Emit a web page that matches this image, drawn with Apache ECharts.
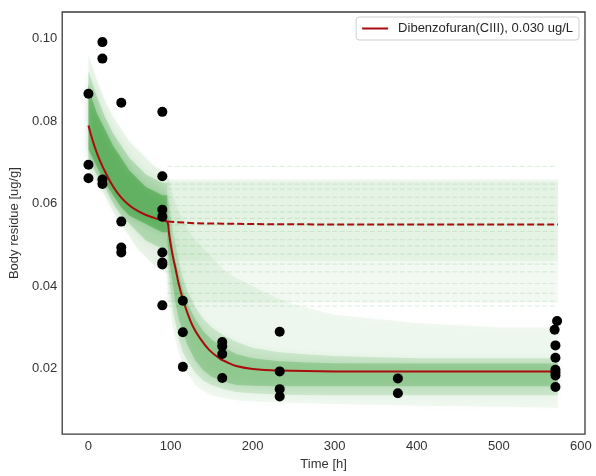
<!DOCTYPE html>
<html><head><meta charset="utf-8">
<script src="https://cdn.jsdelivr.net/npm/echarts@6/dist/echarts.min.js"></script>
<style>html,body{margin:0;padding:0;background:#fff}#c{width:596px;height:476px}</style>
</head><body><div id="c"></div><script>
// ---- observations ----
const obsT = [0,0,0, 17,17,17,17, 40,40,40,40, 90,90,90,90,90,90,90,90, 115,115,115, 163,163,163,163, 233,233,233,233, 377,377, 571,568,569,569,569,569,569,569];
const obsV = [0.0866,0.0694,0.0661, 0.0991,0.0951,0.0658,0.0647, 0.0844,0.0556,0.0493,0.0481, 0.0822,0.0666,0.0585,0.0568,0.0481,0.0457,0.0452,0.0353, 0.0364,0.0288,0.0204, 0.0264,0.0254,0.0235,0.0177, 0.0289,0.0193,0.0150,0.0132, 0.0176,0.0140, 0.0315,0.0294,0.0256,0.0226,0.0197,0.0190,0.0183,0.0155];

// ---- model (red) ----
const modelT = [0,5,10,15,20,30,40,50,60,70,80,90,96,98,100,103,106,110,115,120,127,135,147,160,167,180,200,230,300,400,572];
const modelV = [0.0789,0.0753,0.0724,0.0699,0.0678,0.0641,0.0614,0.0595,0.0582,0.0572,0.0565,0.0559,0.0556,0.0530,0.0503,0.0470,0.0443,0.0405,0.0368,0.0338,0.0303,0.0276,0.0245,0.0224,0.0217,0.0206,0.0199,0.0195,0.0193,0.0193,0.0193];
const contT = [96,130,200,300,572];
const contV = [0.0556,0.0552,0.0550,0.0549,0.0549];

// ---- posterior sample envelopes (green) ----
const p1T = [0,5,10,20,30,40,50,60,70,80,90,96];
const p1OuterHi = [0.096,0.093,0.090,0.085,0.081,0.078,0.075,0.073,0.071,0.069,0.068,0.067];
const p1OuterLo = [0.068,0.067,0.065,0.062,0.058,0.055,0.052,0.049,0.047,0.045,0.044,0.043];
const p1MidHi   = [0.092,0.089,0.086,0.081,0.077,0.074,0.071,0.069,0.067,0.066,0.065,0.065];
const p1MidLo   = [0.071,0.069,0.067,0.064,0.060,0.057,0.055,0.053,0.051,0.050,0.049,0.049];
const p1CoreHi  = [0.089,0.085,0.082,0.078,0.074,0.071,0.068,0.066,0.064,0.063,0.062,0.062];
const p1CoreLo  = [0.073,0.071,0.069,0.065,0.062,0.059,0.057,0.056,0.055,0.054,0.053,0.053];

const p2T = [96,98,100,103,106,110,115,120,130,140,150,165,180,200,230,260,300,400,500,572];
const p2OuterHi = [0.067,0.066,0.064,0.062,0.060,0.058,0.056,0.054,0.051,0.049,0.047,0.044,0.042,0.040,0.037,0.035,0.033,0.031,0.030,0.030];
const p2OuterLo = [0.043,0.038,0.034,0.030,0.027,0.024,0.021,0.019,0.016,0.0145,0.0135,0.0128,0.0123,0.0120,0.0118,0.0116,0.0114,0.0110,0.0107,0.0105];
const p2MidHi   = [0.062,0.060,0.057,0.053,0.050,0.046,0.042,0.039,0.035,0.032,0.030,0.028,0.0265,0.025,0.024,0.0235,0.023,0.0225,0.0225,0.0225];
const p2MidLo   = [0.047,0.043,0.039,0.034,0.031,0.027,0.024,0.022,0.019,0.017,0.016,0.015,0.0143,0.0140,0.0137,0.0136,0.0135,0.0135,0.0135,0.0135];
const p2CoreHi  = [0.058,0.056,0.053,0.049,0.046,0.043,0.039,0.036,0.032,0.029,0.027,0.025,0.0235,0.0225,0.0218,0.0215,0.0213,0.0212,0.0212,0.0212];
const p2CoreLo  = [0.051,0.047,0.044,0.040,0.036,0.032,0.029,0.026,0.022,0.0195,0.018,0.0168,0.0160,0.0158,0.0157,0.0157,0.0157,0.0157,0.0157,0.0157];

const flatT = [96,572];
const flatOuterHi = [0.066,0.066];
const flatOuterLo = [0.036,0.036];
const flatInnerHi = [0.0655,0.0655];
const flatInnerLo = [0.046,0.046];
const flatLevels = [0.069,0.0647,0.0635,0.0615,0.0595,0.0579,0.0564,0.0548,0.0532,0.0512,0.0497,0.0477,0.0453,0.0434,0.0406,0.0382,0.0363,0.0351];

// ---- ticks ----
const xTicks = [0,100,200,300,400,500,600];
const yTicks = [0.02,0.04,0.06,0.08,0.10];

const bands = [
  {t:flatT, hi:flatOuterHi, lo:flatOuterLo, op:0.04, blur:3, sh:0.3},
  {t:flatT, hi:flatInnerHi, lo:flatInnerLo, op:0.045, blur:3, sh:0.3},
  {t:p1T, hi:p1OuterHi, lo:p1OuterLo, op:0.07, blur:7, sh:0.5},
  {t:p1T, hi:p1MidHi, lo:p1MidLo, op:0.17, blur:7, sh:0.5},
  {t:p1T, hi:p1CoreHi, lo:p1CoreLo, op:0.32, blur:6, sh:0.5},
  {t:p2T, hi:p2OuterHi, lo:p2OuterLo, op:0.05, blur:8, sh:0.4},
  {t:p2T, hi:p2MidHi, lo:p2MidLo, op:0.12, blur:7, sh:0.4},
  {t:p2T, hi:p2CoreHi, lo:p2CoreLo, op:0.20, blur:6, sh:0.4}
];

const chart = echarts.init(document.getElementById('c'));
const font = 'Liberation Sans, Arial, sans-serif';
const legendName = 'Dibenzofuran(CIII), 0.030 ug/L';
const red = '#a80c0c';

chart.setOption({
  animation: false,
  backgroundColor: '#fff',
  textStyle: {fontFamily: font},
  grid: {left: 58, right: 11, top: 12, bottom: 32, show: true, borderColor: '#3a3a3a', borderWidth: 1.3, backgroundColor: 'transparent'},
  legend: {
    data: [legendName], right: 17, top: 17, orient: 'horizontal',
    icon: 'rect', itemWidth: 26, itemHeight: 2,
    padding: [5, 6, 5, 6], backgroundColor: '#fff', borderColor: '#d0d0d0', borderWidth: 1, borderRadius: 3,
    textStyle: {fontSize: 13, color: '#262626', fontFamily: font, padding: [0,0,0,5]}
  },
  xAxis: {
    type: 'value', min: -32, max: 605,
    axisLine: {show: false}, axisTick: {show: false}, splitLine: {show: false},
    axisLabel: {customValues: xTicks, fontSize: 13, color: '#333', margin: 6, fontFamily: font},
    name: 'Time [h]', nameLocation: 'middle', nameGap: 20,
    nameTextStyle: {fontSize: 13, color: '#333', fontFamily: font}
  },
  yAxis: {
    type: 'value', min: 0.0041, max: 0.1064,
    axisLine: {show: false}, axisTick: {show: false}, splitLine: {show: false},
    axisLabel: {customValues: yTicks, fontSize: 13, color: '#333', margin: 5, fontFamily: font,
      formatter: v => v.toFixed(2)},
    name: 'Body residue [ug/g]', nameLocation: 'middle', nameGap: 38, nameRotate: 90,
    nameTextStyle: {fontSize: 13, color: '#333', fontFamily: font}
  },
  series: [
    {
      type: 'custom', name: 'bands', clip: true, silent: true, z: 1,
      data: bands.map((b, i) => [b.t[0], b.hi[0], i]),
      encode: {x: 0, y: 1},
      renderItem: (params, api) => {
        const b = bands[api.value(2)];
        const pts = [];
        for (let k = 0; k < b.t.length; k++) pts.push(api.coord([b.t[k], b.hi[k]]));
        for (let k = b.t.length - 1; k >= 0; k--) pts.push(api.coord([b.t[k], b.lo[k]]));
        return {type: 'polygon', shape: {points: pts},
          style: {fill: 'rgba(0,128,0,' + b.op + ')', shadowBlur: b.blur, shadowColor: 'rgba(0,128,0,' + b.sh + ')'}};
      }
    },
    {
      type: 'custom', name: 'flat', clip: true, silent: true, z: 2,
      data: flatLevels.map(v => [flatT[0], v]),
      encode: {x: 0, y: 1},
      renderItem: (params, api) => {
        const y = api.value(1);
        const a = api.coord([flatT[0], y]), b = api.coord([flatT[1], y]);
        return {type: 'line', shape: {x1: a[0], y1: a[1], x2: b[0], y2: b[1]},
          style: {stroke: 'rgba(0,128,0,0.11)', lineWidth: 1.2, lineDash: [5, 2.5]}};
      }
    },
    {
      type: 'line', name: legendName, z: 5,
      data: modelT.map((t, i) => [t, modelV[i]]),
      showSymbol: false, symbol: 'none', smooth: 0.4,
      lineStyle: {color: red, width: 2}, itemStyle: {color: red}
    },
    {
      type: 'line', name: 'cont', z: 5,
      data: contT.map((t, i) => [t, contV[i]]),
      showSymbol: false, symbol: 'none',
      lineStyle: {color: red, width: 2, type: [7, 3]}
    },
    {
      type: 'scatter', name: 'obs', z: 10,
      data: obsT.map((t, i) => [t, obsV[i]]),
      symbol: 'circle', symbolSize: 10,
      itemStyle: {color: '#000', opacity: 1}
    }
  ]
});
</script></body></html>
